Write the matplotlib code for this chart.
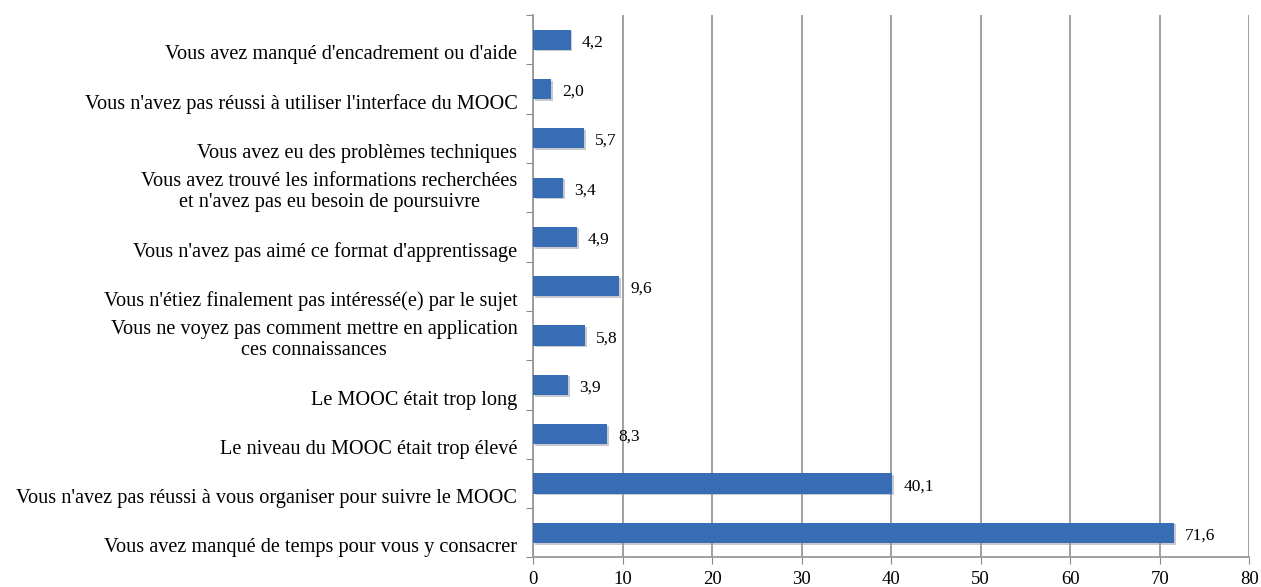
import numpy as np
import matplotlib.pyplot as plt
from matplotlib import patheffects
import matplotlib.transforms as mtransforms

# raisons d'abandon du MOOC (%), de bas en haut
raisons = [
    "Vous avez manqué de temps pour vous y consacrer",
    "Vous n'avez pas réussi à vous organiser pour suivre le MOOC",
    "Le niveau du MOOC était trop élevé",
    "Le MOOC était trop long",
    "Vous ne voyez pas comment mettre en application\nces connaissances",
    "Vous n'étiez finalement pas intéressé(e) par le sujet",
    "Vous n'avez pas aimé ce format d'apprentissage",
    "Vous avez trouvé les informations recherchées\net n'avez pas eu besoin de poursuivre",
    "Vous avez eu des problèmes techniques",
    "Vous n'avez pas réussi à utiliser l'interface du MOOC",
    "Vous avez manqué d'encadrement ou d'aide",
]
pourcentages = [71.6, 40.1, 8.3, 3.9, 5.8, 9.6, 4.9, 3.4, 5.7, 2.0, 4.2]
graduations = [0, 10, 20, 30, 40, 50, 60, 70, 80]

plt.rcParams['font.family'] = ['Liberation Serif', 'DejaVu Serif']

fig = plt.figure(figsize=(12.61, 5.87), dpi=100)
ax = fig.add_axes([0.4227, 0.0503, 0.568, 0.9241])

y = np.arange(len(raisons))
bars = ax.barh(y, pourcentages, height=0.41, color='#386db5', zorder=3)
for b in bars:
    b.set_path_effects([patheffects.SimplePatchShadow(offset=(1.2, -1.2), shadow_rgbFace='#8c96a3', alpha=0.5),
                        patheffects.Normal()])

for yi, v in zip(y, pourcentages):
    ax.annotate(f"{v:.1f}".replace('.', ','), xy=(v, yi), xytext=(8, -2),
                textcoords='offset points', va='center', ha='left', fontsize=12.5)

# libellés alignés à droite, posés sur le bas de chaque bande
trans = mtransforms.blended_transform_factory(ax.transAxes, ax.transData)
for yi, lab in zip(y, raisons):
    ax.text(-0.022, yi - 0.5, lab, transform=trans, ha='right', va='bottom',
            multialignment='center', fontsize=14.6, linespacing=1.15)

ax.set_xlim(0, 80)
ax.set_ylim(-0.5, len(raisons) - 0.5)
ax.set_xticks(graduations)
ax.set_xticklabels([str(g) for g in graduations], fontsize=13.5)
ax.set_yticks(np.arange(len(raisons) + 1) - 0.5)
ax.set_yticklabels([])
ax.tick_params(axis='y', length=5, color='#888888', direction='out')
ax.tick_params(axis='x', length=5, color='#888888', direction='out', pad=5)

ax.grid(axis='x', color='#999999', linewidth=1.3, zorder=0)
ax.set_axisbelow(True)
for s in ['top', 'right']:
    ax.spines[s].set_visible(False)
for s in ['left', 'bottom']:
    ax.spines[s].set_color('#999999')
    ax.spines[s].set_linewidth(1.3)

fig.savefig('out.png', dpi=100)
